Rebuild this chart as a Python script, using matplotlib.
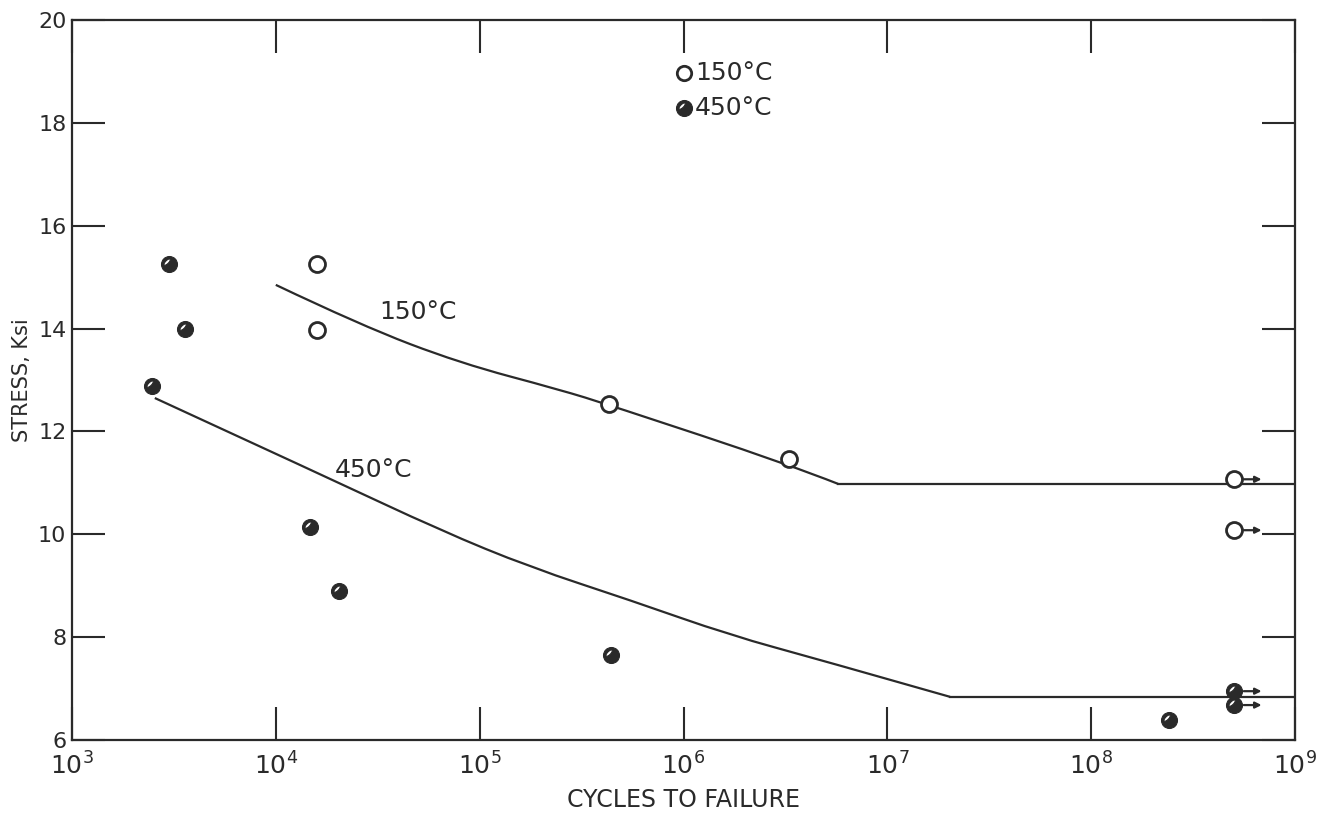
import numpy as np
import matplotlib
matplotlib.use("Agg")
import matplotlib.pyplot as plt
from matplotlib.path import Path
from matplotlib.patches import PathPatch
from matplotlib.transforms import Affine2D

# ---------------- data ----------------
open_x = [1.6e4, 1.6e4, 4.3e5, 3.3e6]
open_y = [15.26, 13.98, 12.53, 11.46]
open_runout_x = [5.0e8, 5.0e8]
open_runout_y = [11.07, 10.08]

fill_x = [3.0e3, 3.6e3, 2.47e3, 1.47e4, 2.04e4, 4.4e5, 2.4e8]
fill_y = [15.26, 13.99, 12.88, 10.14, 8.90, 7.65, 6.39]
fill_runout_x = [5.0e8, 5.0e8]
fill_runout_y = [6.95, 6.68]

# curved part (read points) + knee + flat part
curve150_x = [1.0e4, 2.59e4, 8.0e4, 2.48e5, 4.36e5, 3.33e6, 5.74e6]
curve150_y = [14.85, 14.07, 13.33, 12.81, 12.51, 11.35, 10.98]
flat150_x = [5.74e6, 1.0e9]
flat150_y = [10.98, 10.98]

curve450_x = [2.55e3, 1.78e4, 6.4e4, 1.77e5, 5.47e5, 1.69e6, 4.68e6, 2.03e7]
curve450_y = [12.65, 11.11, 10.08, 9.36, 8.72, 8.04, 7.56, 6.84]
flat450_x = [2.03e7, 1.0e9]
flat450_y = [6.84, 6.84]

xticks = [1e3, 1e4, 1e5, 1e6, 1e7, 1e8, 1e9]
xticklabels = [r"$10^{3}$", r"$10^{4}$", r"$10^{5}$", r"$10^{6}$",
               r"$10^{7}$", r"$10^{8}$", r"$10^{9}$"]
yticks = [6, 8, 10, 12, 14, 16, 18, 20]

INK = "#2a2a2a"

# half-tone filled marker: black disc with a white highlight streak
outer = Path.circle((0, 0), 1.0)
t = np.linspace(0, 2 * np.pi, 40)[::-1]
ex = 0.52 * np.cos(t)
ey = 0.20 * np.sin(t)
rot = Affine2D().rotate_deg(45).translate(-0.30, 0.30)
hole_pts = rot.transform(np.column_stack([ex, ey]))
hole = Path(np.vstack([hole_pts, hole_pts[:1]]),
            [Path.MOVETO] + [Path.LINETO] * (len(hole_pts) - 1) + [Path.CLOSEPOLY])
fill_marker = Path.make_compound_path(outer, hole)

plt.rcParams['font.family'] = ['DejaVu Sans']
plt.rcParams['mathtext.fontset'] = 'dejavusans'

fig = plt.figure(figsize=(13.25, 8.17), dpi=100)
ax = fig.add_axes([0.0543, 0.0942, 0.9231, 0.8813])
ax.set_xscale('log')
ax.set_xlim(1e3, 1e9)
ax.set_ylim(6, 20)


def smooth_curve(ax, xs, ys, **kw):
    """Quadratic-Bezier path through the read points, built in log-x space."""
    lx = np.log10(xs)
    y = np.asarray(ys, float)
    verts = [(lx[0], y[0])]
    codes = [Path.MOVETO]
    for i in range(1, len(lx) - 1):
        if i == len(lx) - 2:
            mx, my = lx[-1], y[-1]
        else:
            mx, my = (lx[i] + lx[i + 1]) / 2, (y[i] + y[i + 1]) / 2
        verts += [(lx[i], y[i]), (mx, my)]
        codes += [Path.CURVE3, Path.CURVE3]
    # coordinates are in scaled (log) space -> use transLimits + transAxes
    p = PathPatch(Path(verts, codes), fill=False,
                  transform=ax.transLimits + ax.transAxes, **kw)
    ax.add_patch(p)


smooth_curve(ax, curve150_x, curve150_y, edgecolor=INK, lw=1.6, zorder=2)
smooth_curve(ax, curve450_x, curve450_y, edgecolor=INK, lw=1.6, zorder=2)
ax.plot(flat150_x, flat150_y, color=INK, lw=1.6, zorder=2)
ax.plot(flat450_x, flat450_y, color=INK, lw=1.6, zorder=2)

ms = 11.5
ax.plot(open_x + open_runout_x, open_y + open_runout_y, 'o', ms=ms,
        mfc='white', mec=INK, mew=2.0, ls='none', zorder=3)
ax.plot(fill_x + fill_runout_x, fill_y + fill_runout_y, marker=fill_marker,
        ms=ms, mfc=INK, mec=INK, mew=0.8, ls='none', zorder=3)

for x, y in zip(open_runout_x + fill_runout_x, open_runout_y + fill_runout_y):
    ax.annotate('', xy=(x * 1.37, y), xytext=(x * 1.12, y),
                arrowprops=dict(arrowstyle='-|>', color=INK, lw=1.6,
                                mutation_scale=9, shrinkA=0, shrinkB=0),
                zorder=4)

# legend (hand placed as in original)
ax.plot([1e6], [18.97], 'o', ms=ms * 0.9, mfc='white', mec=INK, mew=2.0, zorder=3)
ax.plot([1e6], [18.28], marker=fill_marker, ms=ms, mfc=INK, mec=INK, mew=0.8, zorder=3)
ax.text(1.14e6, 18.97, "150°C", fontsize=18, color=INK, va='center', ha='left')
ax.text(1.14e6, 18.28, "450°C", fontsize=18, color=INK, va='center', ha='left')

# curve labels
ax.text(5.0e4, 14.32, "150°C", fontsize=18, color=INK, va='center', ha='center')
ax.text(3.0e4, 11.25, "450°C", fontsize=18, color=INK, va='center', ha='center')

ax.set_xticks(xticks)
ax.set_xticklabels(xticklabels)
ax.set_yticks(yticks)
ax.minorticks_off()
ax.tick_params(axis='both', which='major', direction='in', length=24, width=1.5,
               color=INK, labelcolor=INK, labelsize=16,
               top=True, right=True)
ax.tick_params(axis='x', pad=9, labelsize=18)
ax.tick_params(axis='y', pad=4)
for s in ax.spines.values():
    s.set_linewidth(1.6)
    s.set_color(INK)

ax.set_xlabel("CYCLES TO FAILURE", fontsize=17, color=INK, labelpad=6)
ax.set_ylabel("STRESS, Ksi", fontsize=15, color=INK, labelpad=4)

fig.savefig("out.png", dpi=100, facecolor='white')
